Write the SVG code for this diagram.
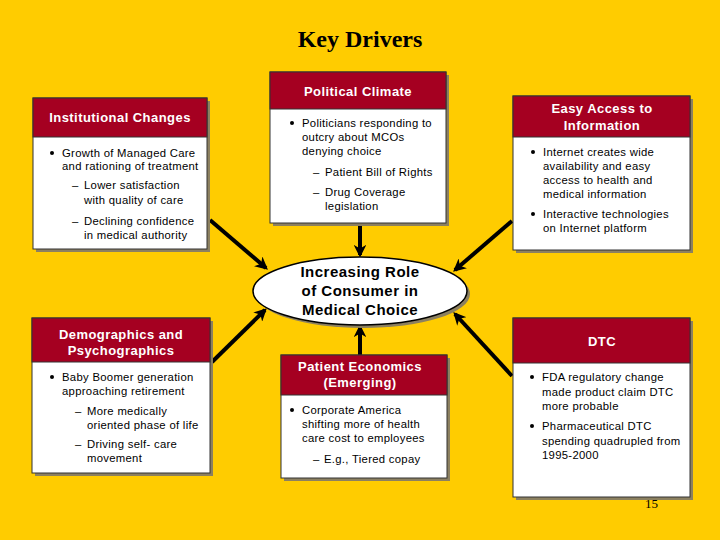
<svg xmlns="http://www.w3.org/2000/svg" width="720" height="540" viewBox="0 0 720 540">
<defs>
<style>
.bg{fill:#FFCC00}
.shadow{fill:#8C8060}
.body{fill:#FFFFFF;stroke:#333;stroke-width:1}
.head{fill:#A50021;stroke:#333;stroke-width:1}
.ht{font-family:"Liberation Sans",Arial,sans-serif;font-weight:bold;font-size:13px;letter-spacing:0.45px;fill:#FFFFFF;text-anchor:middle}
.t{font-family:"Liberation Sans",Arial,sans-serif;font-size:11.3px;letter-spacing:0.3px;fill:#000}
.et{font-family:"Liberation Sans",Arial,sans-serif;font-weight:bold;font-size:15px;letter-spacing:0.5px;fill:#000;text-anchor:middle}
.title{font-family:"Liberation Serif","Times New Roman",serif;font-weight:bold;font-size:24px;fill:#000;text-anchor:middle}
.num{font-family:"Liberation Serif","Times New Roman",serif;font-size:13px;fill:#000}
.arr{stroke:#000;stroke-width:4;fill:none;marker-end:url(#ah)}
</style>
<marker id="ah" viewBox="0 0 10 10" refX="8" refY="5" markerWidth="3.2" markerHeight="3.2" orient="auto" markerUnits="strokeWidth">
<path d="M0,0 L10,5 L0,10 L3,5 Z" fill="#000"/>
</marker>
</defs>
<rect class="bg" x="0" y="0" width="720" height="540"/>
<text class="title" x="360" y="47">Key Drivers</text>

<g id="connectors">
<line class="arr" x1="210" y1="220" x2="266" y2="268"/>
<line class="arr" x1="512" y1="221" x2="455" y2="270"/>
<line class="arr" x1="212" y1="362" x2="265" y2="310"/>
<line class="arr" x1="512" y1="376" x2="455" y2="314"/>
<line class="arr" x1="360" y1="223" x2="360" y2="255"/>
<line class="arr" x1="360" y1="355" x2="360" y2="327"/>
</g>

<g id="institutional">
<rect class="shadow" x="36" y="101" width="174" height="151"/>
<rect class="body" x="33" y="98" width="174" height="151"/>
<rect class="head" x="33" y="98" width="174" height="39"/>
<text class="ht" x="120" y="122">Institutional Changes</text>
<circle cx="52" cy="153" r="2"/>
<text class="t" x="62" y="157">Growth of Managed Care</text>
<text class="t" x="62" y="170">and rationing of treatment</text>
<text class="t" x="72" y="189">–</text>
<text class="t" x="84" y="189">Lower satisfaction</text>
<text class="t" x="84" y="204">with quality of care</text>
<text class="t" x="72" y="225">–</text>
<text class="t" x="84" y="225">Declining confidence</text>
<text class="t" x="84" y="239">in medical authority</text>
</g>

<g id="political">
<rect class="shadow" x="273" y="75" width="176" height="151"/>
<rect class="body" x="270" y="72" width="176" height="151"/>
<rect class="head" x="270" y="72" width="176" height="37"/>
<text class="ht" x="358" y="96">Political Climate</text>
<circle cx="292" cy="123" r="2"/>
<text class="t" x="302" y="127">Politicians responding to</text>
<text class="t" x="302" y="141">outcry about MCOs</text>
<text class="t" x="302" y="155">denying choice</text>
<text class="t" x="313" y="176">–</text>
<text class="t" x="325" y="176">Patient Bill of Rights</text>
<text class="t" x="313" y="196">–</text>
<text class="t" x="325" y="196">Drug Coverage</text>
<text class="t" x="325" y="210">legislation</text>
</g>

<g id="easy-access">
<rect class="shadow" x="516" y="99" width="177" height="154"/>
<rect class="body" x="513" y="96" width="177" height="154"/>
<rect class="head" x="513" y="96" width="177" height="41"/>
<text class="ht" x="602" y="113">Easy Access to</text>
<text class="ht" x="602" y="130">Information</text>
<circle cx="533" cy="152" r="2"/>
<text class="t" x="543" y="156">Internet creates wide</text>
<text class="t" x="543" y="170">availability and easy</text>
<text class="t" x="543" y="184">access to health and</text>
<text class="t" x="543" y="198">medical information</text>
<circle cx="533" cy="214" r="2"/>
<text class="t" x="543" y="218">Interactive technologies</text>
<text class="t" x="543" y="232">on Internet platform</text>
</g>

<g id="consumer">
<ellipse cx="363" cy="294" rx="107" ry="34" fill="#8C8060"/>
<ellipse cx="360" cy="291" rx="107" ry="34" fill="#FFFFFF" stroke="#000" stroke-width="1.5"/>
<text class="et" x="360" y="277">Increasing Role</text>
<text class="et" x="360" y="296">of Consumer in</text>
<text class="et" x="360" y="315">Medical Choice</text>
</g>

<g id="demographics">
<rect class="shadow" x="35" y="321" width="178" height="155"/>
<rect class="body" x="32" y="318" width="178" height="155"/>
<rect class="head" x="32" y="318" width="178" height="44"/>
<text class="ht" x="121" y="339">Demographics and</text>
<text class="ht" x="121" y="355">Psychographics</text>
<circle cx="52" cy="377" r="2"/>
<text class="t" x="62" y="381">Baby Boomer generation</text>
<text class="t" x="62" y="395">approaching retirement</text>
<text class="t" x="75" y="415">–</text>
<text class="t" x="87" y="415">More medically</text>
<text class="t" x="87" y="429">oriented phase of life</text>
<text class="t" x="75" y="448">–</text>
<text class="t" x="87" y="448">Driving self- care</text>
<text class="t" x="87" y="462">movement</text>
</g>

<g id="patient-economics">
<rect class="shadow" x="284" y="358" width="166" height="123"/>
<rect class="body" x="281" y="355" width="166" height="123"/>
<rect class="head" x="281" y="355" width="166" height="40"/>
<text class="ht" x="360" y="371">Patient Economics</text>
<text class="ht" x="360" y="387">(Emerging)</text>
<circle cx="292" cy="410" r="2"/>
<text class="t" x="302" y="414">Corporate America</text>
<text class="t" x="302" y="428">shifting more of health</text>
<text class="t" x="302" y="442">care cost to employees</text>
<text class="t" x="313" y="463">–</text>
<text class="t" x="324" y="463">E.g., Tiered copay</text>
</g>

<g id="dtc">
<rect class="shadow" x="516" y="321" width="177" height="179"/>
<rect class="body" x="513" y="318" width="177" height="179"/>
<rect class="head" x="513" y="318" width="177" height="45"/>
<text class="ht" x="602" y="346">DTC</text>
<circle cx="532" cy="377" r="2"/>
<text class="t" x="542" y="381">FDA regulatory change</text>
<text class="t" x="542" y="396">made product claim DTC</text>
<text class="t" x="542" y="410">more probable</text>
<circle cx="532" cy="426" r="2"/>
<text class="t" x="542" y="430">Pharmaceutical DTC</text>
<text class="t" x="542" y="445">spending quadrupled from</text>
<text class="t" x="542" y="459">1995-2000</text>
</g>

<text class="num" x="645" y="508">15</text>
</svg>
